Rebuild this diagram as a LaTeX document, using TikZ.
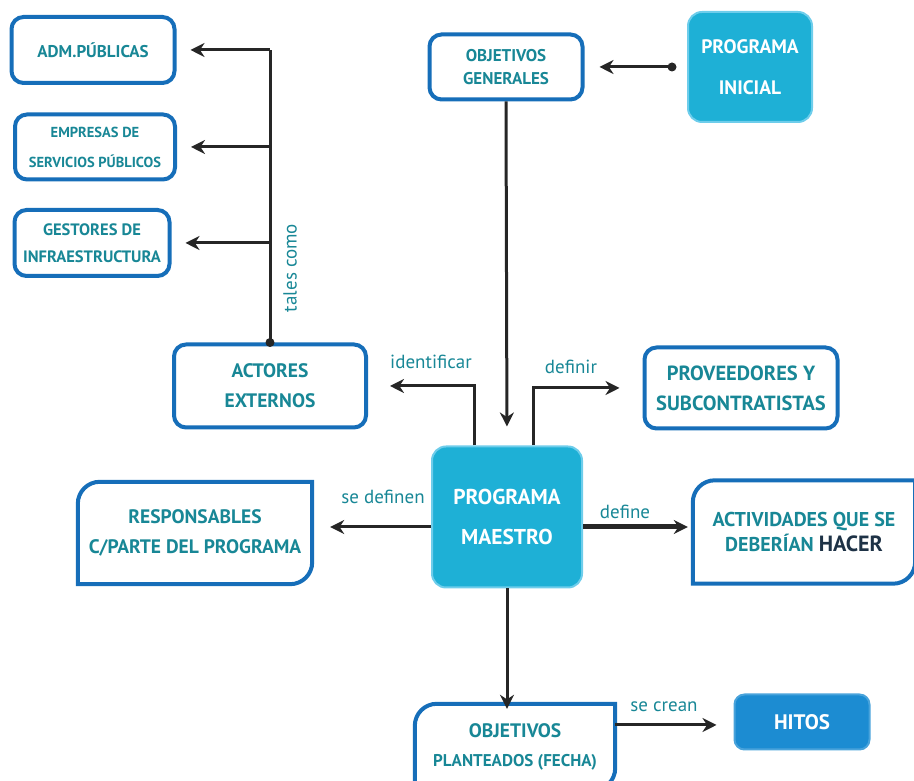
\documentclass[tikz,border=0pt]{standalone}
\usepackage{fontspec}
\setmainfont{PT Sans}
\usetikzlibrary{positioning,arrows.meta,calc}
\definecolor{borde}{RGB}{22,110,185}
\definecolor{texto}{RGB}{24,135,150}
\definecolor{celeste}{RGB}{30,176,214}
\definecolor{celesteclaro}{RGB}{110,205,235}
\definecolor{azulhitos}{RGB}{28,140,210}
\definecolor{oscuro}{RGB}{30,50,70}
\newcommand{\fs}[2]{\fontsize{#1}{#2}\selectfont}

\begin{document}
\begin{tikzpicture}[x=1pt,y=1pt,
  caja/.style={draw=borde, line width=4pt, rounded corners=12pt, fill=white,
    align=center, text=texto, inner sep=0pt},
  llena/.style={draw=celesteclaro, line width=2pt, rounded corners=14pt,
    fill=celeste, align=center, text=white, inner sep=0pt},
  hoja/.style={align=center, text=texto, inner sep=0pt},
  flecha/.style={draw=black!85, line width=3pt,
    -{Stealth[length=14pt,width=14pt]}},
  etiqueta/.style={text=texto, font=\fs{19}{21}, inner sep=0pt},
  ]
  \useasboundingbox (0,0) rectangle (914,781);

  % cajas de arriba a la izquierda
  \node[caja, font=\bfseries\fs{17}{20}, minimum width=163, minimum height=66] (adm) at (93,731)
    {ADM.PÚBLICAS};
  \node[caja, font=\bfseries\fs{14.5}{30}, minimum width=160, minimum height=65] (emp) at (95,634)
    {EMPRESAS DE\\SERVICIOS PÚBLICOS};
  \node[caja, font=\bfseries\fs{16.5}{27}, minimum width=155, minimum height=66] (gest) at (92,538)
    {GESTORES DE\\INFRAESTRUCTURA};
  \node[caja, font=\bfseries\fs{19.5}{30}, minimum width=192, minimum height=83] (actores) at (270,395)
    {ACTORES\\EXTERNOS};

  % arriba
  \node[caja, font=\bfseries\fs{17}{23}, minimum width=153, minimum height=65] (objgen) at (506,714)
    {OBJETIVOS\\GENERALES};
  \node[llena, font=\bfseries\fs{19.5}{41}, minimum width=124, minimum height=110] (inicial) at (750,714)
    {PROGRAMA\\INICIAL};

  % centro
  \node[llena, font=\bfseries\fs{21.5}{40}, minimum width=150, minimum height=141] (maestro) at (507,264)
    {PROGRAMA\\MAESTRO};
  \node[caja, font=\bfseries\fs{20.5}{30}, minimum width=193, minimum height=81] (prov) at (741,393)
    {PROVEEDORES Y\\SUBCONTRATISTAS};
  \node[hoja, font=\bfseries\fs{19.5}{30}, minimum width=234, minimum height=102] (resp) at (195,248)
    {RESPONSABLES\\\fs{19.5}{30}C/PARTE DEL PROGRAMA};
  \node[hoja, font=\bfseries\fs{20}{25}, minimum width=222, minimum height=103] (activ) at (804,249)
    {ACTIVIDADES QUE SE\\DEBERÍAN {\color{oscuro}\fs{22}{25}HACER}};

  % abajo
  \node[hoja, font=\bfseries\fs{19.5}{29}, minimum width=200, minimum height=86] (objplan) at (515,34)
    {OBJETIVOS\\\fs{17}{29}PLANTEADOS (FECHA)};
  \node[llena, draw=azulhitos!80!white, fill=azulhitos, rounded corners=10pt,
    font=\bfseries\fs{21}{22}, minimum width=135, minimum height=55] (hitos) at (802,59) {HITOS};

  % bordes con dos esquinas redondeadas
  \foreach \n in {resp,activ,objplan}
    \draw[draw=borde, line width=4pt]
      ([xshift=22]\n.north west) -- (\n.north east)
      -- ([yshift=22]\n.south east) arc[start angle=0,end angle=-90,radius=22]
      -- (\n.south west) -- ([yshift=-22]\n.north west)
      arc[start angle=180,end angle=90,radius=22] -- cycle;

  % tales como
  \coordinate (rama) at (actores.north |- adm.east);
  \draw[draw=black!85, line width=3pt] (actores.north) -- (rama);
  \fill[black!85] (actores.north) circle (4.5);
  \foreach \n in {adm,emp,gest}
    \draw[flecha, shorten >=14pt] (actores.north |- \n.east) -- (\n.east);
  \node[etiqueta, rotate=90] (tales) at (290,513) {tales como};

  % programa inicial
  \draw[flecha, shorten >=15pt] ([xshift=-15]inicial.west) -- (objgen.east);
  \fill[black!85] ([xshift=-15]inicial.west) circle (4.5);

  % programa maestro
  \draw[flecha, shorten >=19pt] (objgen.south) -- (maestro.north);
  \draw[flecha, shorten >=22pt] ([xshift=-33]maestro.north) |- (actores.east);
  \node[etiqueta] (ident) at (431,419) {identificar};
  \draw[flecha, shorten >=23pt] ([xshift=26]maestro.north) |- (prov.west);
  \node[etiqueta] (definir) at (571,414) {definir};
  \draw[flecha, shorten >=18pt] ([yshift=-10]maestro.west) -- ([yshift=-10]maestro.west -| resp.east);
  \node[etiqueta] (sedef) at (383,284) {se definen};
  \draw[flecha, line width=5pt, shorten >=5pt] ([yshift=-10]maestro.east) -- ([yshift=-10]maestro.east -| activ.west);
  \node[etiqueta] (define) at (625,269) {define};
  \draw[flecha, shorten >=-5pt] (maestro.south) -- (maestro.south |- objplan.north);
  \draw[flecha, shorten >=17pt] ([yshift=22]objplan.east) -- ([yshift=22]objplan.east -| hitos.west);
  \node[etiqueta] (secrean) at (664,74) {se crean};
\end{tikzpicture}
\end{document}
